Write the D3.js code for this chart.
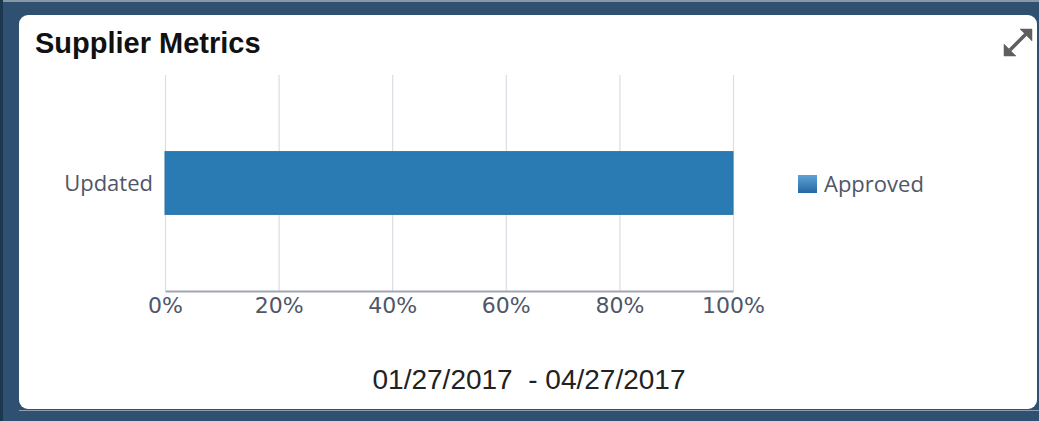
<!DOCTYPE html>
<html>
<head>
<meta charset="utf-8">
<script src="https://cdn.jsdelivr.net/npm/d3@7"></script>
<style>
  html, body { margin: 0; padding: 0; background: #2f5071; }
  svg { display: block; }
</style>
</head>
<body>
<div id="chart"></div>
<script>
const categories = ["Updated"];
const seriesName = "Approved";
const values = [100];
const xTicks = [0, 20, 40, 60, 80, 100];
const titleText = "Supplier Metrics";
const dateRange = "01/27/2017  - 04/27/2017";

const W = 1039, H = 421;
const margin = { top: 75, left: 165, right: 306, bottom: 130 };

const svg = d3.select("#chart")
  .append("svg")
  .attr("width", W)
  .attr("height", H);

// frame + card
svg.append("rect").attr("width", W).attr("height", H).attr("fill", "#2f5071");
svg.append("rect").attr("x", 0).attr("y", 0).attr("width", W).attr("height", 2).attr("fill", "#8a97a6");
svg.append("rect").attr("x", 0).attr("y", 0).attr("width", 3).attr("height", H).attr("fill", "#1c3750");
svg.append("rect").attr("x", 19).attr("y", 410).attr("width", W - 19).attr("height", 1).attr("fill", "#8da0b3");
svg.append("rect")
  .attr("x", 19).attr("y", 15)
  .attr("width", 1018).attr("height", 394)
  .attr("rx", 9)
  .attr("fill", "#ffffff");

svg.append("text")
  .attr("x", 35).attr("y", 53)
  .style("font-family", "'Liberation Sans', Arial, sans-serif")
  .style("font-weight", "bold")
  .style("font-size", "29px")
  .attr("fill", "#111")
  .text(titleText);

// expand icon
const icon = svg.append("g").attr("fill", "#5f5f5f").attr("stroke", "#5f5f5f");
icon.append("line").attr("x1", 1010).attr("y1", 50).attr("x2", 1026).attr("y2", 34).attr("stroke-width", 3.5);
icon.append("path").attr("d", "M1032,29 L1032,41 L1020,29 Z").attr("stroke-width", 0.5);
icon.append("path").attr("d", "M1004,56 L1004,44 L1016,56 Z").attr("stroke-width", 0.5);

const x = d3.scaleLinear().domain([0, 100]).range([margin.left, margin.left + 568]);
const y = d3.scaleBand().domain(categories).range([margin.top, margin.top + 216]).padding(0.55);

// gridlines
svg.append("g")
  .selectAll("line")
  .data(xTicks)
  .join("line")
  .attr("x1", d => x(d) + 0.5).attr("x2", d => x(d) + 0.5)
  .attr("y1", margin.top).attr("y2", margin.top + 216)
  .attr("stroke", "#dcdce6")
  .attr("stroke-width", 1.2);

// bars
svg.append("g")
  .selectAll("rect")
  .data(values)
  .join("rect")
  .attr("x", x(0))
  .attr("y", (d, i) => y(categories[i]))
  .attr("width", d => x(d) - x(0))
  .attr("height", y.bandwidth())
  .attr("fill", "#2a7bb3")
  .attr("stroke", "#2672a8")
  .attr("stroke-width", 1);

// x axis
const xAxis = svg.append("g")
  .attr("transform", `translate(0,${margin.top + 216})`)
  .call(d3.axisBottom(x).tickValues(xTicks).tickFormat(d => d + "%").tickSize(0).tickPadding(6));
xAxis.select(".domain").attr("stroke", "#a3a3b6").attr("stroke-width", 2);
xAxis.selectAll(".tick text")
  .style("font-family", "'DejaVu Sans', Verdana, sans-serif")
  .style("font-size", "22px")
  .attr("fill", "#4f5668");

// y axis labels
svg.append("g")
  .selectAll("text")
  .data(categories)
  .join("text")
  .attr("x", margin.left - 12)
  .attr("y", d => y(d) + y.bandwidth() / 2)
  .attr("dy", "0.35em")
  .attr("text-anchor", "end")
  .style("font-family", "'Open Sans', sans-serif")
  .style("font-size", "22px")
  .attr("fill", "#4f5668")
  .text(d => d);

// legend
const defs = svg.append("defs");
const grad = defs.append("linearGradient").attr("id", "lg").attr("x1", 0).attr("y1", 0).attr("x2", 0).attr("y2", 1);
grad.append("stop").attr("offset", "0%").attr("stop-color", "#5fa3d6");
grad.append("stop").attr("offset", "100%").attr("stop-color", "#2368a2");

const legend = svg.append("g").attr("transform", "translate(798,175)");
legend.append("rect").attr("width", 19).attr("height", 18).attr("fill", "url(#lg)");
legend.append("text")
  .attr("x", 26).attr("y", 9).attr("dy", "0.35em")
  .style("font-family", "'Open Sans', sans-serif")
  .style("font-size", "22px")
  .attr("fill", "#4f5668")
  .text(seriesName);

// date range
svg.append("text")
  .attr("x", 529).attr("y", 389)
  .attr("text-anchor", "middle")
  .style("white-space", "pre")
  .style("font-family", "'Liberation Sans', Arial, sans-serif")
  .style("font-size", "28px")
  .attr("fill", "#222")
  .text(dateRange);
</script>
</body>
</html>
